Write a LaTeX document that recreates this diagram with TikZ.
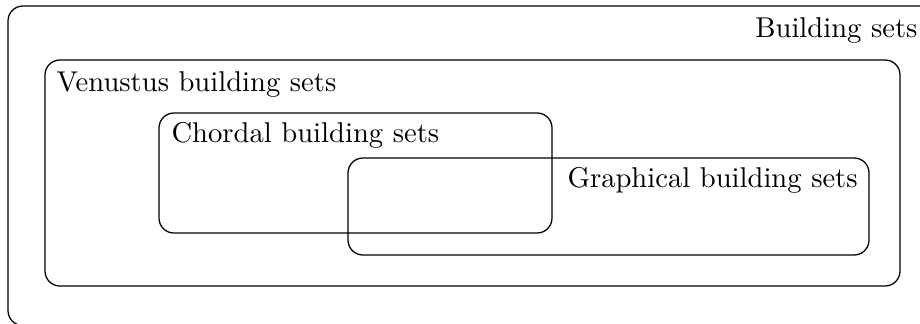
\documentclass[tikz,border=0pt]{standalone}
\begin{document}
\begin{tikzpicture}[x=0.3546pt,y=-0.3546pt,
  setbox/.style={draw=black, line width=0.45pt, rounded corners=5.3pt},
  setlabel/.style={inner sep=0pt, font=\fontsize{10.15pt}{12pt}\selectfont}]
\useasboundingbox (0,0) rectangle (920,323);
\clip (0,0) rectangle (920,323);
\draw[setbox] (8,6) rectangle (940,325.5);
\draw[setbox] (45,60) rectangle (900,286);
\draw[setbox] (159,113) rectangle (552,233);
\draw[setbox] (348,158) rectangle (869,255);
\node[setlabel, anchor=base east] (b) at (918,37) {Building sets};
\node[setlabel, anchor=base west] (v) at (56,91) {Venustus building sets};
\node[setlabel, anchor=base west] (c) at (171,142) {Chordal building sets};
\node[setlabel, anchor=base west] (g) at (567,187) {Graphical building sets};
\end{tikzpicture}
\end{document}
